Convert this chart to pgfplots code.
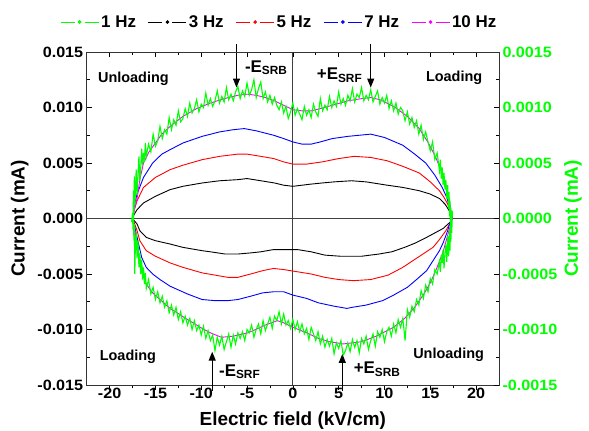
\documentclass[border=0pt]{standalone}
\usepackage{fontspec}
\setmainfont{Liberation Sans}
\newfontfamily\tickfont[FakeStretch=1.08]{Liberation Sans}
\usepackage{pgfplots}
\pgfplotsset{compat=1.18}
\usetikzlibrary{arrows.meta}

\definecolor{cgreen}{RGB}{0,255,0}
\definecolor{cmag}{RGB}{255,0,255}

\pgfplotsset{
  common/.style={
    scale only axis, width=412.3bp, height=333bp,
    xmin=-22.5, xmax=22.5,
    xtick={-20,-15,-10,-5,0,5,10,15,20},
    minor x tick num=1, minor y tick num=1,
    major tick length=5bp, minor tick length=3bp,
    tick style={black, line width=0.6bp},
    axis line style={line width=0.8bp, black!80},
    tick label style={font=\fontsize{15}{17}\tickfont\bfseries},
    label style={font=\fontsize{19}{22}\selectfont\bfseries},
    /pgf/number format/assume math mode=true,
    scaled y ticks=false,
    clip=false,
  },
}
\tikzset{
  arr/.style={-{Triangle[length=9bp,width=7bp]}, line width=1.1bp, black},
  ann/.style={font=\fontsize{14.5}{16}\selectfont\bfseries},
  esub/.style={font=\fontsize{17}{19}\selectfont\bfseries},
}

\begin{document}
\begin{tikzpicture}
\begin{axis}[common, name=main,
  ymin=-0.015, ymax=0.015,
  ytick={-0.015,-0.010,-0.005,0,0.005,0.010,0.015},
  yticklabel style={/pgf/number format/.cd, fixed, fixed zerofill, precision=3},
  xtick pos=bottom, ytick pos=left, tick align=inside,
  major x tick style={yshift=-5bp}, minor x tick style={yshift=-3bp},
  xlabel={Electric field (kV/cm)}, ylabel={Current (mA)},
  xlabel style={yshift=-6bp}, ylabel style={yshift=2bp},
  legend columns=5,
  legend style={at={(0.467,1.09)}, anchor=center, draw=none, fill=none,
    font=\fontsize{17}{19}\selectfont\bfseries,
    /tikz/every even column/.append style={column sep=10bp}},
  legend image code/.code={
    \draw[#1] (0bp,0bp) -- (14bp,0bp) (24bp,0bp) -- (38bp,0bp);
    \fill[#1] (19bp,0bp) circle (1.3bp);},
]
\draw[black!75, line width=0.7bp] (axis cs:0,-0.015) -- (axis cs:0,0.015);
\draw[black!75, line width=0.7bp] (axis cs:-22.5,0) -- (axis cs:22.5,0);

\addlegendimage{cgreen, line width=1bp}
\addlegendentry{1 Hz}

% 3 Hz
\addplot[black, line width=0.9bp] coordinates {
(-17.5,0) (-17.3,0.0004) (-17.0,0.0008) (-16.3,0.0014) (-15,0.0020) (-13.4,0.0026)
(-12,0.0029) (-9.9,0.0032) (-8,0.0034) (-6,0.0035) (-5,0.0036) (-3.5,0.0034)
(-2,0.0032) (-1,0.0030) (0,0.0029) (1,0.0030) (2,0.0031) (3.2,0.0032) (4.5,0.0033)
(6.4,0.0034) (8,0.0033) (10.3,0.0030) (12,0.0028) (13.8,0.0025) (15,0.0022)
(16,0.0018) (16.6,0.0013) (17,0.0008) (17.3,0.0003) (17.4,0)
(17.2,-0.0003) (16.8,-0.0006) (16.4,-0.0009) (15.5,-0.0013) (14.6,-0.0017)
(13.4,-0.0022) (12.2,-0.0026) (10.8,-0.0030) (9.4,-0.0032) (7.5,-0.0034)
(5.2,-0.0034) (3.5,-0.0033) (2,-0.0030) (0.5,-0.0028) (-1,-0.0028) (-2.1,-0.0028)
(-3.5,-0.0030) (-4.6,-0.0031) (-6,-0.0032) (-7.4,-0.0032) (-9,-0.0030)
(-9.9,-0.0029) (-12,-0.0026) (-13.4,-0.0023) (-15,-0.0020) (-16,-0.0017)
(-16.7,-0.0011) (-17,-0.0005) (-17.5,0)};
\addlegendentry{3 Hz}

% 5 Hz
\addplot[red, line width=0.9bp] coordinates {
(-17.5,0) (-17.3,0.0008) (-17,0.0016) (-16.3,0.0028) (-15,0.0037) (-13.4,0.0044)
(-12,0.0048) (-9.9,0.0053) (-8,0.0056) (-6,0.0058) (-5,0.0058) (-3.5,0.0056)
(-2.1,0.0054) (-1,0.0051) (0,0.0049) (1.5,0.0049) (3.2,0.0051) (5,0.0054)
(6.7,0.0056) (8.5,0.0055) (10.3,0.0052) (12,0.0047) (13.8,0.0041) (15,0.0033)
(16,0.0025) (16.5,0.0019) (16.9,0.0013) (17.2,0.0006) (17.4,0)
(17.1,-0.0005) (16.7,-0.0011) (16,-0.0019) (15.3,-0.0026) (14.2,-0.0032)
(13.1,-0.0038) (12,-0.0044) (10.4,-0.0051) (8.5,-0.0055) (6.6,-0.0056)
(5,-0.0055) (3.5,-0.0053) (2,-0.0050) (0.5,-0.0048) (-1,-0.0046) (-2.1,-0.0045)
(-3.3,-0.0047) (-4.6,-0.0050) (-6,-0.0053) (-7.1,-0.0053) (-8.5,-0.0051)
(-9.9,-0.0049) (-12,-0.0044) (-13.4,-0.0040) (-15,-0.0034) (-16,-0.0029)
(-16.7,-0.0020) (-17,-0.0011) (-17.3,-0.0004) (-17.5,0)};
\addlegendentry{5 Hz}

% 7 Hz
\addplot[blue, line width=0.9bp] coordinates {
(-17.5,0) (-17.3,0.0012) (-17,0.0022) (-16.3,0.0037) (-15.3,0.0050) (-14.3,0.0058)
(-13.4,0.0062) (-12,0.0068) (-9.9,0.0074) (-8,0.0078) (-6.5,0.0080) (-5.3,0.0081)
(-4,0.0079) (-2.1,0.0075) (-1,0.0072) (0,0.0069) (1,0.0067) (2,0.0067)
(3,0.0069) (4.3,0.0072) (6,0.0074) (8.5,0.0076) (10,0.0073) (12,0.0066)
(13.3,0.0058) (14.5,0.0050) (15.5,0.0039) (16.3,0.0028) (16.8,0.0019)
(17.1,0.0010) (17.4,0)
(17.1,-0.0005) (16.9,-0.0011) (16.4,-0.0022) (16,-0.0029) (15.3,-0.0038)
(14.6,-0.0047) (13.5,-0.0055) (12.5,-0.0062) (11,-0.0069) (9.8,-0.0074)
(8,-0.0078) (6.5,-0.0080) (5.9,-0.0081) (4.5,-0.0079) (2.8,-0.0076)
(1.5,-0.0072) (0,-0.0069) (-1,-0.0066) (-2.1,-0.0066) (-3.3,-0.0067)
(-4.6,-0.0070) (-6,-0.0073) (-7.1,-0.0074) (-8.5,-0.0074) (-9.9,-0.0073)
(-11.5,-0.0068) (-13.4,-0.0061) (-14.5,-0.0055) (-15.3,-0.0050) (-16,-0.0044)
(-16.5,-0.0035) (-17,-0.0017) (-17.3,-0.0006) (-17.5,0)};
\addlegendentry{7 Hz}

% 10 Hz
\addplot[cmag, line width=0.9bp] coordinates {
(-17.5,0) (-17.3,0.0008) (-17,0.0018) (-16.7,0.0035) (-16.3,0.0050) (-15.7,0.0060)
(-15,0.0068) (-14.3,0.0076) (-13.4,0.0083) (-12,0.0092) (-10.5,0.0099)
(-9,0.0104) (-7.5,0.0108) (-6,0.0111) (-5,0.0112) (-4,0.0111) (-3,0.0109)
(-2,0.0106) (-1,0.0102) (0,0.0098) (1,0.0097) (2,0.0097) (3,0.0099)
(4.3,0.0102) (6,0.0106) (7.5,0.0108) (8.5,0.0109) (9.5,0.0107) (11,0.0101)
(12.5,0.0092) (13.8,0.0081) (14.8,0.0068) (15.6,0.0055) (16.2,0.0043)
(16.6,0.0034) (17,0.0020) (17.2,0.0010) (17.4,0)
(17.2,-0.0006) (16.9,-0.0015) (16.4,-0.0030) (15.6,-0.0047) (15,-0.0058)
(14.3,-0.0068) (13.3,-0.0080) (12.2,-0.0090) (11,-0.0098) (9.1,-0.0106)
(7.5,-0.0111) (5.5,-0.0113) (4,-0.0111) (2.8,-0.0108) (1.5,-0.0103)
(0,-0.0098) (-1,-0.0094) (-1.7,-0.0092) (-3,-0.0096) (-4.9,-0.0103)
(-6.5,-0.0106) (-7.8,-0.0107) (-9,-0.0103) (-9.9,-0.0099) (-11.5,-0.0091)
(-13.4,-0.0081) (-14.5,-0.0073) (-15.3,-0.0067) (-16,-0.0059) (-16.5,-0.0045)
(-17,-0.0023) (-17.3,-0.0008) (-17.5,0)};
\addlegendentry{10 Hz}

% annotations
\node[ann] at (axis cs:-17.4,0.0126) {Unloading};
\node[ann] at (axis cs:17.6,0.0127) {Loading};
\node[ann] at (axis cs:-18.0,-0.0125) {Loading};
\node[ann] at (axis cs:17.0,-0.0123) {Unloading};
\node[esub] at (axis cs:-2.9,0.0136) {-E\textsubscript{SRB}};
\node[esub] at (axis cs:5.1,0.0129) {+E\textsubscript{SRF}};
\node[esub] at (axis cs:-5.8,-0.0138) {-E\textsubscript{SRF}};
\node[esub] at (axis cs:9.2,-0.0136) {+E\textsubscript{SRB}};
\draw[arr] (axis cs:-6.15,0.0157) -- (axis cs:-6.15,0.0118);
\draw[arr] (axis cs:8.5,0.0157) -- (axis cs:8.5,0.0118);
\draw[arr] (axis cs:-8.8,-0.0155) -- (axis cs:-8.8,-0.0120);
\draw[arr] (axis cs:5.4,-0.0155) -- (axis cs:5.4,-0.0122);
\end{axis}

\begin{axis}[common,
  ymin=-0.0015, ymax=0.0015,
  axis x line*=top, axis y line*=right, tick align=inside,
  xticklabels={},
  ytick={-0.0015,-0.0010,-0.0005,0,0.0005,0.0010,0.0015},
  yticklabel style={text=cgreen, /pgf/number format/.cd, fixed, fixed zerofill, precision=4},
  ylabel={Current (mA)}, ylabel style={text=cgreen},
]
% 1 Hz
\addplot[cgreen, line width=1.1bp] coordinates {
(-17.6,-0.3e-4) (-17.5,0.5e-4) (-17.45,-1.0e-4) (-17.4,2.5e-4) (-17.35,0.3e-4)
(-17.3,3.8e-4) (-17.25,1.2e-4) (-17.2,2.0e-4) (-17.1,4.4e-4) (-17.0,2.1e-4)
(-16.9,3.9e-4) (-16.8,5.6e-4) (-16.7,3.4e-4) (-16.6,4.6e-4) (-16.5,6.3e-4)
(-16.4,4.8e-4) (-16.3,5.9e-4) (-16.2,5.1e-4) (-16.1,6.8e-4) (-16.0,5.6e-4)
(-15.75,6.7e-4) (-15.5,6.0e-4) (-15.25,7.6e-4) (-15.0,6.5e-4) (-14.75,7.0e-4)
(-14.5,8.3e-4) (-14.25,7.2e-4) (-14.0,8.0e-4) (-13.75,7.6e-4) (-13.5,9.1e-4)
(-13.25,8.0e-4) (-13.0,8.9e-4) (-12.75,8.4e-4) (-12.5,9.7e-4) (-12.25,8.7e-4)
(-12.0,9.0e-4) (-11.75,9.9e-4) (-11.5,9.2e-4) (-11.25,10.4e-4) (-11.0,9.5e-4)
(-10.75,9.9e-4) (-10.5,10.7e-4) (-10.25,9.6e-4) (-10.0,10.3e-4) (-9.75,10.0e-4)
(-9.5,11.3e-4) (-9.25,10.2e-4) (-9.0,10.8e-4) (-8.75,10.1e-4) (-8.5,10.6e-4)
(-8.25,11.5e-4) (-8.0,10.4e-4) (-7.75,11.0e-4) (-7.5,10.5e-4) (-7.25,11.8e-4)
(-7.0,10.7e-4) (-6.75,11.2e-4) (-6.5,10.6e-4) (-6.25,11.4e-4) (-6.0,11.9e-4)
(-5.75,10.8e-4) (-5.5,11.5e-4) (-5.25,11.0e-4) (-5.0,12.2e-4) (-4.75,11.1e-4)
(-4.5,11.6e-4) (-4.25,12.5e-4) (-4.0,10.9e-4) (-3.75,11.7e-4) (-3.5,12.3e-4)
(-3.25,10.8e-4) (-3.0,11.4e-4) (-2.75,10.5e-4) (-2.5,11.1e-4) (-2.25,10.3e-4)
(-2.0,10.9e-4) (-1.75,10.2e-4) (-1.5,9.8e-4) (-1.25,10.5e-4) (-1.0,9.5e-4)
(-0.75,10.1e-4) (-0.5,9.0e-4) (-0.25,9.6e-4) (0.0,10.4e-4) (0.25,9.3e-4)
(0.5,9.9e-4) (0.75,9.4e-4) (1.0,8.9e-4) (1.25,10.1e-4) (1.5,9.3e-4)
(1.75,9.8e-4) (2.0,9.1e-4) (2.25,10.3e-4) (2.5,9.6e-4) (2.75,9.2e-4)
(3.0,10.8e-4) (3.25,9.7e-4) (3.5,10.2e-4) (3.75,9.8e-4) (4.0,11.0e-4)
(4.25,10.0e-4) (4.5,10.6e-4) (4.75,10.1e-4) (5.0,11.4e-4) (5.25,10.3e-4)
(5.5,10.8e-4) (5.75,10.2e-4) (6.0,11.1e-4) (6.25,10.6e-4) (6.5,11.7e-4)
(6.75,10.5e-4) (7.0,11.2e-4) (7.25,10.9e-4) (7.5,11.8e-4) (7.75,10.6e-4)
(8.0,11.1e-4) (8.25,10.7e-4) (8.5,11.6e-4) (8.75,10.5e-4) (9.0,11.0e-4)
(9.25,11.5e-4) (9.5,10.3e-4) (9.75,10.9e-4) (10.0,10.4e-4) (10.25,11.1e-4)
(10.5,9.9e-4) (10.75,10.6e-4) (11.0,9.7e-4) (11.25,10.4e-4) (11.5,9.4e-4)
(11.75,10.0e-4) (12.0,9.7e-4) (12.25,8.8e-4) (12.5,9.6e-4) (12.75,8.5e-4)
(13.0,9.1e-4) (13.25,8.2e-4) (13.5,8.8e-4) (13.75,7.6e-4) (14.0,8.4e-4)
(14.25,7.1e-4) (14.5,7.8e-4) (14.75,6.9e-4) (15.0,6.1e-4) (15.25,6.9e-4)
(15.5,5.3e-4) (15.75,5.9e-4) (16.0,4.3e-4) (16.1,5.3e-4) (16.2,3.6e-4)
(16.3,4.6e-4) (16.4,3.0e-4) (16.5,4.1e-4) (16.6,2.6e-4) (16.7,3.5e-4)
(16.8,1.8e-4) (16.9,3.0e-4) (17.0,0.9e-4) (17.05,2.4e-4) (17.1,0.2e-4)
(17.15,1.6e-4) (17.2,-0.6e-4) (17.25,1.0e-4) (17.3,-1.2e-4) (17.35,0.4e-4)
(17.4,0.5e-4) (17.35,-1.3e-4) (17.3,0.2e-4) (17.25,-2.1e-4) (17.2,-0.4e-4)
(17.15,-2.9e-4) (17.1,-1.0e-4) (17.0,-3.4e-4) (16.9,-1.6e-4) (16.8,-3.9e-4)
(16.7,-2.3e-4) (16.6,-3.1e-4) (16.5,-4.5e-4) (16.4,-2.8e-4) (16.3,-4.0e-4)
(16.2,-3.3e-4) (16.1,-4.8e-4) (16.0,-3.9e-4) (15.75,-5.0e-4) (15.5,-4.6e-4)
(15.25,-5.9e-4) (15.0,-5.4e-4) (14.75,-6.6e-4) (14.5,-6.0e-4) (14.25,-7.2e-4)
(14.0,-6.5e-4) (13.75,-7.8e-4) (13.5,-7.3e-4) (13.25,-8.4e-4) (13.0,-7.9e-4)
(12.75,-8.9e-4) (12.5,-8.2e-4) (12.25,-11.0e-4) (12.0,-9.0e-4) (11.75,-9.8e-4)
(11.5,-9.1e-4) (11.25,-10.3e-4) (11.0,-9.5e-4) (10.75,-10.6e-4) (10.5,-9.8e-4)
(10.25,-10.2e-4) (10.0,-11.1e-4) (9.75,-10.0e-4) (9.5,-10.7e-4) (9.25,-10.2e-4)
(9.0,-11.5e-4) (8.75,-10.4e-4) (8.5,-11.0e-4) (8.25,-11.8e-4) (8.0,-10.6e-4)
(7.75,-11.3e-4) (7.5,-10.8e-4) (7.25,-12.1e-4) (7.0,-11.0e-4) (6.75,-11.6e-4)
(6.5,-10.9e-4) (6.25,-12.0e-4) (6.0,-11.2e-4) (5.75,-11.9e-4) (5.5,-12.3e-4)
(5.25,-11.0e-4) (5.0,-11.7e-4) (4.75,-11.2e-4) (4.5,-12.2e-4) (4.25,-10.8e-4)
(4.0,-11.5e-4) (3.75,-10.9e-4) (3.5,-11.6e-4) (3.25,-10.6e-4) (3.0,-11.3e-4)
(2.75,-10.2e-4) (2.5,-11.0e-4) (2.25,-10.4e-4) (2.0,-9.8e-4) (1.75,-10.9e-4)
(1.5,-9.9e-4) (1.25,-10.4e-4) (1.0,-9.5e-4) (0.75,-10.2e-4) (0.5,-9.3e-4)
(0.25,-10.0e-4) (0.0,-9.1e-4) (-0.25,-9.9e-4) (-0.5,-9.2e-4) (-0.75,-9.6e-4)
(-1.0,-8.6e-4) (-1.25,-9.5e-4) (-1.5,-8.4e-4) (-1.75,-9.2e-4) (-2.0,-8.8e-4)
(-2.25,-9.9e-4) (-2.5,-8.9e-4) (-2.75,-9.5e-4) (-3.0,-10.1e-4) (-3.25,-9.2e-4)
(-3.5,-10.4e-4) (-3.75,-9.5e-4) (-4.0,-10.0e-4) (-4.25,-10.7e-4) (-4.5,-9.6e-4)
(-4.75,-10.3e-4) (-5.0,-10.0e-4) (-5.25,-11.0e-4) (-5.5,-10.2e-4) (-5.75,-10.8e-4)
(-6.0,-10.3e-4) (-6.25,-11.3e-4) (-6.5,-10.5e-4) (-6.75,-11.6e-4) (-7.0,-10.4e-4)
(-7.25,-11.1e-4) (-7.5,-11.8e-4) (-7.75,-10.6e-4) (-8.0,-11.4e-4) (-8.25,-10.7e-4)
(-8.5,-11.9e-4) (-8.75,-10.5e-4) (-9.0,-11.0e-4) (-9.25,-10.1e-4) (-9.5,-10.8e-4)
(-9.75,-9.7e-4) (-10.0,-10.5e-4) (-10.25,-9.6e-4) (-10.5,-10.1e-4) (-10.75,-9.2e-4)
(-11.0,-10.0e-4) (-11.25,-9.0e-4) (-11.5,-9.6e-4) (-11.75,-8.8e-4) (-12.0,-9.4e-4)
(-12.25,-8.4e-4) (-12.5,-9.1e-4) (-12.75,-8.0e-4) (-13.0,-8.7e-4) (-13.25,-7.8e-4)
(-13.5,-8.5e-4) (-13.75,-7.4e-4) (-14.0,-8.0e-4) (-14.25,-7.0e-4) (-14.5,-7.6e-4)
(-14.75,-6.6e-4) (-15.0,-7.3e-4) (-15.25,-6.2e-4) (-15.5,-6.8e-4) (-15.75,-5.5e-4)
(-16.0,-6.3e-4) (-16.1,-4.9e-4) (-16.2,-5.9e-4) (-16.3,-4.4e-4) (-16.4,-5.5e-4)
(-16.5,-3.7e-4) (-16.6,-5.0e-4) (-16.7,-3.1e-4) (-16.8,-4.4e-4) (-16.9,-2.0e-4)
(-17.0,-3.6e-4) (-17.1,-1.3e-4) (-17.2,-2.9e-4) (-17.25,-5.0e-4) (-17.3,-0.5e-4)
(-17.35,-2.0e-4) (-17.4,0.6e-4) (-17.5,-0.4e-4)};
\end{axis}
\pgfresetboundingbox
\path ([shift={(-86.7bp,-46bp)}]main.south west) rectangle ([shift={(90bp,52bp)}]main.north east);
\end{tikzpicture}
\end{document}
